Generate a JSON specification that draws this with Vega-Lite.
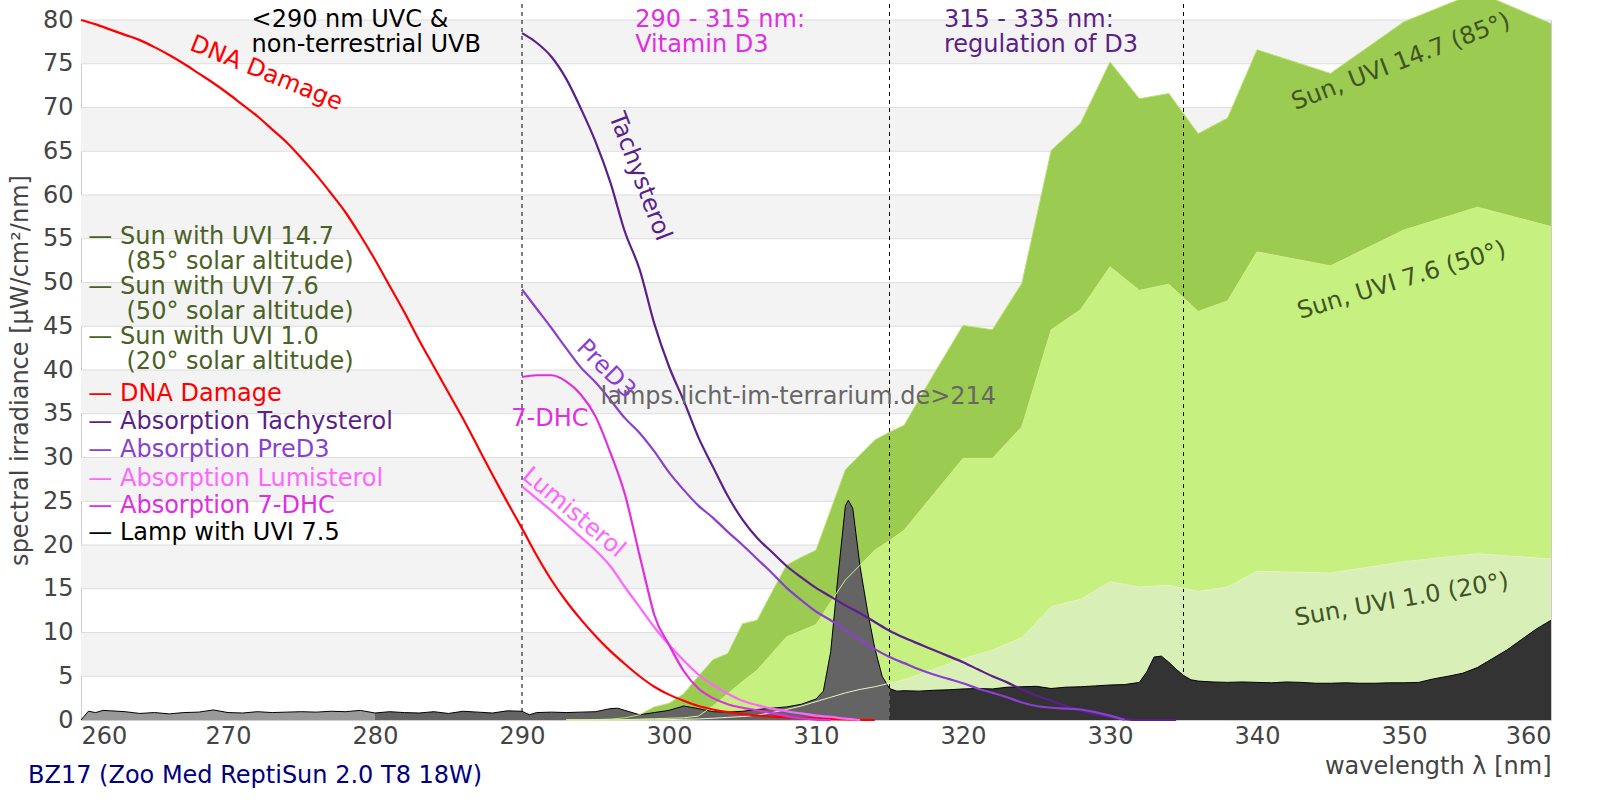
{
  "$schema": "https://vega.github.io/schema/vega-lite/v6.json",
  "width": 1470,
  "height": 700,
  "autosize": {"type": "none"},
  "padding": {"left": 81, "top": 20, "right": 49, "bottom": 80},
  "background": "#ffffff",
  "config": {
    "font": "DejaVu Sans",
    "view": {"stroke": "#cccccc"},
    "mark": {"invalid": "filter"},
    "axis": {
      "labelFont": "DejaVu Sans",
      "labelFontSize": 24,
      "labelColor": "#444444",
      "titleFont": "DejaVu Sans",
      "titleFontSize": 24,
      "titleFontWeight": "normal",
      "titleColor": "#444444",
      "ticks": false,
      "domain": false,
      "grid": false
    }
  },
  "title": {
    "text": "BZ17 (Zoo Med ReptiSun 2.0 T8 18W)",
    "orient": "bottom",
    "anchor": "start",
    "frame": "group",
    "font": "DejaVu Sans",
    "fontSize": 24,
    "fontWeight": "normal",
    "color": "#000080",
    "dx": -53,
    "offset": -14
  },
  "datasets": {
    "bands": [
      {"lo": 5, "hi": 10}, {"lo": 15, "hi": 20}, {"lo": 25, "hi": 30}, {"lo": 35, "hi": 40},
      {"lo": 45, "hi": 50}, {"lo": 55, "hi": 60}, {"lo": 65, "hi": 70}, {"lo": 75, "hi": 80}
    ],
    "zones": [{"wl": 290}, {"wl": 315}, {"wl": 335}],
    "sun": [
      {"wl": 293, "s147": 0, "s76": 0, "s10": 0},
      {"wl": 294, "s147": 0, "s76": 0, "s10": 0},
      {"wl": 295, "s147": 0.05, "s76": 0, "s10": 0},
      {"wl": 296, "s147": 0.1, "s76": 0.02, "s10": 0},
      {"wl": 297, "s147": 0.25, "s76": 0.05, "s10": 0.01},
      {"wl": 298, "s147": 0.6, "s76": 0.1, "s10": 0.02},
      {"wl": 299, "s147": 1.5, "s76": 0.15, "s10": 0.03},
      {"wl": 300, "s147": 1.9, "s76": 0.2, "s10": 0.05},
      {"wl": 301, "s147": 3.0, "s76": 0.25, "s10": 0.08},
      {"wl": 302, "s147": 5.0, "s76": 0.45, "s10": 0.12},
      {"wl": 303, "s147": 6.9, "s76": 1.6, "s10": 0.2},
      {"wl": 304, "s147": 7.6, "s76": 3.0, "s10": 0.3},
      {"wl": 305, "s147": 11.0, "s76": 4.4, "s10": 0.4},
      {"wl": 306, "s147": 11.4, "s76": 5.7, "s10": 0.55},
      {"wl": 307, "s147": 14.6, "s76": 7.6, "s10": 0.85},
      {"wl": 308, "s147": 17.7, "s76": 9.5, "s10": 1.2},
      {"wl": 309, "s147": 18.6, "s76": 10.2, "s10": 1.6},
      {"wl": 310, "s147": 19.4, "s76": 10.9, "s10": 2.1},
      {"wl": 311, "s147": 24.0, "s76": 13.5, "s10": 2.6},
      {"wl": 312, "s147": 28.6, "s76": 16.0, "s10": 3.1},
      {"wl": 313, "s147": 30.3, "s76": 17.7, "s10": 3.5},
      {"wl": 314, "s147": 32.0, "s76": 19.4, "s10": 3.8},
      {"wl": 315, "s147": 32.9, "s76": 20.5, "s10": 4.2},
      {"wl": 316, "s147": 33.7, "s76": 21.7, "s10": 4.6},
      {"wl": 318, "s147": 39.5, "s76": 25.8, "s10": 5.8},
      {"wl": 320, "s147": 45.1, "s76": 29.9, "s10": 7.0},
      {"wl": 322, "s147": 44.6, "s76": 29.9, "s10": 8.0},
      {"wl": 324, "s147": 49.9, "s76": 33.5, "s10": 9.4},
      {"wl": 326, "s147": 65.1, "s76": 44.6, "s10": 12.95},
      {"wl": 328, "s147": 68.2, "s76": 46.9, "s10": 13.8},
      {"wl": 330, "s147": 75.2, "s76": 51.8, "s10": 15.8},
      {"wl": 332, "s147": 71.0, "s76": 49.1, "s10": 15.2},
      {"wl": 334, "s147": 71.6, "s76": 49.8, "s10": 15.4},
      {"wl": 336, "s147": 67.0, "s76": 46.7, "s10": 14.7},
      {"wl": 338, "s147": 68.8, "s76": 47.9, "s10": 15.2},
      {"wl": 340, "s147": 76.6, "s76": 53.5, "s10": 17.0},
      {"wl": 345, "s147": 73.9, "s76": 51.9, "s10": 16.8},
      {"wl": 350, "s147": 79.8, "s76": 56.0, "s10": 18.1},
      {"wl": 355, "s147": 83.2, "s76": 58.6, "s10": 19.0},
      {"wl": 360, "s147": 79.6, "s76": 56.4, "s10": 18.4}
    ],
    "lamp": [
      {"wl": 260, "v": 0}, {"wl": 260.5, "v": 1.0}, {"wl": 261, "v": 0.85}, {"wl": 261.5, "v": 1.1},
      {"wl": 262, "v": 1.05}, {"wl": 263, "v": 0.95}, {"wl": 264, "v": 0.75}, {"wl": 265, "v": 0.85},
      {"wl": 266, "v": 0.7}, {"wl": 267, "v": 0.85}, {"wl": 268, "v": 0.9}, {"wl": 269, "v": 1.15},
      {"wl": 270, "v": 0.85}, {"wl": 271, "v": 0.8}, {"wl": 272, "v": 0.95}, {"wl": 273, "v": 0.85},
      {"wl": 274, "v": 0.9}, {"wl": 275, "v": 0.95}, {"wl": 276, "v": 0.9}, {"wl": 277, "v": 1.0},
      {"wl": 278, "v": 0.95}, {"wl": 279, "v": 1.1}, {"wl": 280, "v": 0.8}, {"wl": 281, "v": 0.95},
      {"wl": 282, "v": 0.85}, {"wl": 283, "v": 0.8}, {"wl": 284, "v": 0.95}, {"wl": 285, "v": 0.75},
      {"wl": 286, "v": 1.0}, {"wl": 287, "v": 0.9}, {"wl": 288, "v": 0.8}, {"wl": 289, "v": 1.05},
      {"wl": 290, "v": 1.0}, {"wl": 290.5, "v": 0.6}, {"wl": 291, "v": 0.85}, {"wl": 292, "v": 0.9},
      {"wl": 293, "v": 0.85}, {"wl": 294, "v": 0.9}, {"wl": 295, "v": 0.95}, {"wl": 296, "v": 1.3},
      {"wl": 296.5, "v": 1.35}, {"wl": 297, "v": 1.1}, {"wl": 298, "v": 0.6}, {"wl": 299, "v": 0.85},
      {"wl": 300, "v": 1.1}, {"wl": 301, "v": 1.6}, {"wl": 302, "v": 1.3}, {"wl": 303, "v": 0.95},
      {"wl": 304, "v": 0.9}, {"wl": 305, "v": 1.0}, {"wl": 306, "v": 1.2}, {"wl": 307, "v": 1.35},
      {"wl": 308, "v": 1.5}, {"wl": 309, "v": 1.8}, {"wl": 310, "v": 2.4}, {"wl": 310.5, "v": 3.3},
      {"wl": 311, "v": 7.8}, {"wl": 311.5, "v": 16.5}, {"wl": 312, "v": 24.5}, {"wl": 312.2, "v": 25.1},
      {"wl": 312.5, "v": 24.2}, {"wl": 313, "v": 17.5}, {"wl": 313.5, "v": 12.5}, {"wl": 314, "v": 8.2},
      {"wl": 314.5, "v": 5.0}, {"wl": 315, "v": 3.6}, {"wl": 315.5, "v": 3.3}, {"wl": 316, "v": 3.35},
      {"wl": 317, "v": 3.3}, {"wl": 318, "v": 3.4}, {"wl": 319, "v": 3.45}, {"wl": 320, "v": 3.55},
      {"wl": 321, "v": 3.6}, {"wl": 322, "v": 3.55}, {"wl": 323, "v": 3.75}, {"wl": 324, "v": 3.8},
      {"wl": 325, "v": 3.85}, {"wl": 326, "v": 3.6}, {"wl": 327, "v": 3.75}, {"wl": 328, "v": 3.8},
      {"wl": 329, "v": 3.9}, {"wl": 330, "v": 4.0}, {"wl": 331, "v": 4.05}, {"wl": 332, "v": 4.3},
      {"wl": 332.5, "v": 5.5}, {"wl": 333, "v": 7.2}, {"wl": 333.5, "v": 7.3}, {"wl": 334, "v": 6.6},
      {"wl": 334.5, "v": 5.8}, {"wl": 335, "v": 5.1}, {"wl": 335.5, "v": 4.6}, {"wl": 336, "v": 4.45},
      {"wl": 337, "v": 4.35}, {"wl": 338, "v": 4.3}, {"wl": 339, "v": 4.35}, {"wl": 340, "v": 4.3},
      {"wl": 341, "v": 4.25}, {"wl": 342, "v": 4.35}, {"wl": 343, "v": 4.3}, {"wl": 344, "v": 4.2},
      {"wl": 345, "v": 4.2}, {"wl": 346, "v": 4.25}, {"wl": 347, "v": 4.2}, {"wl": 348, "v": 4.2},
      {"wl": 349, "v": 4.25}, {"wl": 350, "v": 4.25}, {"wl": 351, "v": 4.3}, {"wl": 352, "v": 4.7},
      {"wl": 353, "v": 5.0}, {"wl": 354, "v": 5.35}, {"wl": 355, "v": 6.0}, {"wl": 356, "v": 7.0},
      {"wl": 357, "v": 8.0}, {"wl": 358, "v": 9.2}, {"wl": 359, "v": 10.4}, {"wl": 360, "v": 11.4}
    ],
    "curves": [
      {"wl": 260, "dna": 80.0}, {"wl": 261, "dna": 79.5}, {"wl": 262, "dna": 78.9}, {"wl": 263, "dna": 78.3},
      {"wl": 264, "dna": 77.7}, {"wl": 265, "dna": 76.9}, {"wl": 266, "dna": 76.0}, {"wl": 267, "dna": 75.0},
      {"wl": 268, "dna": 73.9}, {"wl": 269, "dna": 72.8}, {"wl": 270, "dna": 71.6}, {"wl": 271, "dna": 70.3},
      {"wl": 272, "dna": 69.0}, {"wl": 273, "dna": 67.5}, {"wl": 274, "dna": 66.0}, {"wl": 275, "dna": 64.2},
      {"wl": 276, "dna": 62.3}, {"wl": 277, "dna": 60.2}, {"wl": 278, "dna": 58.0}, {"wl": 279, "dna": 55.4},
      {"wl": 280, "dna": 52.6}, {"wl": 281, "dna": 49.6}, {"wl": 282, "dna": 46.6}, {"wl": 283, "dna": 43.4},
      {"wl": 284, "dna": 40.4}, {"wl": 285, "dna": 37.4}, {"wl": 286, "dna": 34.4}, {"wl": 287, "dna": 31.2},
      {"wl": 288, "dna": 28.0}, {"wl": 289, "dna": 24.9},
      {"wl": 290, "dna": 21.9, "tachy": 78.5, "pred3": 49.2, "lumi": 26.7, "dhc": 39.2},
      {"wl": 291, "dna": 18.8, "tachy": 77.4, "pred3": 47.0, "lumi": 25.3, "dhc": 39.4},
      {"wl": 292, "dna": 16.0, "tachy": 75.8, "pred3": 44.8, "lumi": 23.9, "dhc": 39.4},
      {"wl": 293, "dna": 13.6, "tachy": 73.3, "pred3": 42.5, "lumi": 22.4, "dhc": 38.7},
      {"wl": 294, "dna": 11.5, "tachy": 69.9, "pred3": 40.3, "lumi": 20.9, "dhc": 37.2},
      {"wl": 295, "dna": 9.6, "tachy": 66.1, "pred3": 38.6, "lumi": 19.4, "dhc": 34.7},
      {"wl": 296, "dna": 7.9, "tachy": 61.5, "pred3": 36.6, "lumi": 17.6, "dhc": 30.6},
      {"wl": 297, "dna": 6.4, "tachy": 55.8, "pred3": 34.5, "lumi": 15.2, "dhc": 25.8},
      {"wl": 298, "dna": 5.0, "tachy": 51.5, "pred3": 32.8, "lumi": 12.9, "dhc": 18.8},
      {"wl": 298.5, "dhc": 15.3},
      {"wl": 299, "dna": 3.8, "tachy": 45.3, "pred3": 30.7, "lumi": 10.6, "dhc": 12.0},
      {"wl": 300, "dna": 2.9, "tachy": 40.4, "pred3": 28.3, "lumi": 8.6, "dhc": 8.6},
      {"wl": 301, "dna": 2.2, "tachy": 36.5, "pred3": 26.3, "lumi": 6.8, "dhc": 5.6},
      {"wl": 302, "dna": 1.6, "tachy": 32.3, "pred3": 24.5, "lumi": 5.2, "dhc": 3.6},
      {"wl": 303, "dna": 1.2, "tachy": 28.9, "pred3": 23.1, "lumi": 4.0, "dhc": 2.5},
      {"wl": 304, "dna": 0.9, "tachy": 25.6, "pred3": 21.5, "lumi": 3.0, "dhc": 1.8},
      {"wl": 305, "dna": 0.7, "tachy": 22.9, "pred3": 20.0, "lumi": 2.2, "dhc": 1.4},
      {"wl": 306, "dna": 0.5, "tachy": 20.8, "pred3": 18.4, "lumi": 1.7, "dhc": 1.1},
      {"wl": 307, "dna": 0.4, "tachy": 19.2, "pred3": 16.8, "lumi": 1.3, "dhc": 0.8},
      {"wl": 308, "dna": 0.3, "tachy": 17.6, "pred3": 15.1, "lumi": 1.0, "dhc": 0.45},
      {"wl": 309, "dna": 0.22, "tachy": 16.3, "pred3": 13.7, "lumi": 0.75, "dhc": 0.2},
      {"wl": 310, "dna": 0.16, "tachy": 15.1, "pred3": 12.4, "lumi": 0.5, "dhc": 0.05},
      {"wl": 311, "dna": 0.1, "tachy": 14.1, "pred3": 11.4, "lumi": 0.35, "dhc": 0},
      {"wl": 312, "dna": 0.06, "tachy": 13.1, "pred3": 10.3, "lumi": 0.15},
      {"wl": 313, "dna": 0.03, "tachy": 12.2, "pred3": 9.2, "lumi": 0},
      {"wl": 314, "dna": 0, "tachy": 11.2, "pred3": 8.1},
      {"wl": 315, "tachy": 10.2, "pred3": 7.2},
      {"wl": 316, "tachy": 9.4, "pred3": 6.5},
      {"wl": 317, "tachy": 8.7, "pred3": 5.8},
      {"wl": 318, "tachy": 8.0, "pred3": 5.2},
      {"wl": 319, "tachy": 7.3, "pred3": 4.7},
      {"wl": 320, "tachy": 6.6, "pred3": 4.2},
      {"wl": 321, "tachy": 5.8, "pred3": 3.6},
      {"wl": 322, "tachy": 5.0, "pred3": 3.1},
      {"wl": 323, "tachy": 4.3, "pred3": 2.6},
      {"wl": 324, "tachy": 3.5, "pred3": 2.0},
      {"wl": 325, "tachy": 2.8, "pred3": 1.6},
      {"wl": 326, "tachy": 2.2, "pred3": 1.4},
      {"wl": 327, "tachy": 1.6, "pred3": 1.3},
      {"wl": 328, "tachy": 1.1, "pred3": 1.2},
      {"wl": 329, "tachy": 0.7, "pred3": 0.9},
      {"wl": 330, "tachy": 0.35, "pred3": 0.5},
      {"wl": 331, "tachy": 0.1, "pred3": 0},
      {"wl": 332, "tachy": 0},
      {"wl": 333, "tachy": 0},
      {"wl": 334.5, "tachy": 0}
    ],
    "blocks": [
      {"wl": 260.5, "v": 56.6, "text": ["— Sun with UVI 14.7", "\u200b\u00a0\u00a0\u00a0\u00a0\u00a0(85° solar altitude)"], "group": "sun"},
      {"wl": 260.5, "v": 50.9, "text": ["— Sun with UVI 7.6", "\u200b\u00a0\u00a0\u00a0\u00a0\u00a0(50° solar altitude)"], "group": "sun"},
      {"wl": 260.5, "v": 45.2, "text": ["— Sun with UVI 1.0", "\u200b\u00a0\u00a0\u00a0\u00a0\u00a0(20° solar altitude)"], "group": "sun"},
      {"wl": 271.6, "v": 81.4, "text": ["<290 nm UVC &", "non-terrestrial UVB"], "group": "lamp"},
      {"wl": 297.7, "v": 81.4, "text": ["290 - 315 nm:", "Vitamin D3"], "group": "dhc"},
      {"wl": 318.7, "v": 81.4, "text": ["315 - 335 nm:", "regulation of D3"], "group": "tachy"}
    ],
    "legend": [
      {"wl": 260.5, "v": 37.3, "text": "— DNA Damage", "group": "dna"},
      {"wl": 260.5, "v": 34.1, "text": "— Absorption Tachysterol", "group": "tachy"},
      {"wl": 260.5, "v": 30.9, "text": "— Absorption PreD3", "group": "pred3"},
      {"wl": 260.5, "v": 27.6, "text": "— Absorption Lumisterol", "group": "lumi"},
      {"wl": 260.5, "v": 24.5, "text": "— Absorption 7-DHC", "group": "dhc"},
      {"wl": 260.5, "v": 21.4, "text": "— Lamp with UVI 7.5", "group": "lamp"}
    ],
    "tags": [
      {"wl": 272.6, "v": 73.9, "text": "DNA Damage", "group": "dna"},
      {"wl": 298.0, "v": 62.1, "text": "Tachysterol", "group": "tachy"},
      {"wl": 295.7, "v": 40.1, "text": "PreD3", "group": "pred3"},
      {"wl": 293.5, "v": 23.7, "text": "Lumisterol", "group": "lumi"},
      {"wl": 291.9, "v": 34.35, "text": "7-DHC", "group": "dhc"},
      {"wl": 308.8, "v": 36.95, "text": "lamps.licht-im-terrarium.de>214", "group": "water"},
      {"wl": 349.8, "v": 75.2, "text": "Sun, UVI 14.7 (85°)", "group": "sunlabel"},
      {"wl": 349.85, "v": 50.2, "text": "Sun, UVI 7.6 (50°)", "group": "sunlabel"},
      {"wl": 349.85, "v": 13.7, "text": "Sun, UVI 1.0 (20°)", "group": "sunlabel"}
    ]
  },
  "layer": [
    {
      "data": {"name": "bands"},
      "mark": {"type": "rect", "fill": "#f3f3f3"},
      "encoding": {
        "y": {"field": "lo", "type": "quantitative"},
        "y2": {"field": "hi"}
      }
    },
    {
      "data": {"name": "bands"},
      "mark": {"type": "rule", "stroke": "#dddddd", "strokeWidth": 1},
      "encoding": {"y": {"field": "lo", "type": "quantitative"}}
    },
    {
      "data": {"name": "bands"},
      "mark": {"type": "rule", "stroke": "#dddddd", "strokeWidth": 1},
      "encoding": {"y": {"field": "hi", "type": "quantitative"}}
    },
    {
      "data": {"name": "sun"},
      "encoding": {
        "x": {
          "field": "wl",
          "type": "quantitative",
          "scale": {"domain": [260, 360], "nice": false, "zero": false},
          "axis": {
            "values": [260, 270, 280, 290, 300, 310, 320, 330, 340, 350, 360],
            "title": "wavelength λ [nm]",
            "titleAnchor": "end",
            "titleAlign": "right",
            "labelPadding": 4,
            "titlePadding": 6
          }
        }
      },
      "layer": [
        {
          "mark": {"type": "area", "color": "#9bcb50"},
          "encoding": {
            "y": {
              "field": "s147",
              "type": "quantitative",
              "scale": {"domain": [0, 80], "nice": false},
              "axis": {
                "values": [0, 5, 10, 15, 20, 25, 30, 35, 40, 45, 50, 55, 60, 65, 70, 75, 80],
                "title": "spectral irradiance [µW/cm²/nm]",
                "labelPadding": 8,
                "titlePadding": 10
              }
            }
          }
        },
        {
          "mark": {"type": "area", "color": "#c6f07f"},
          "encoding": {"y": {"field": "s76", "type": "quantitative"}}
        },
        {
          "mark": {"type": "area", "color": "#d9efb8"},
          "encoding": {"y": {"field": "s10", "type": "quantitative"}}
        }
      ]
    },
    {
      "data": {"name": "zones"},
      "mark": {"type": "rule", "stroke": "#000000", "strokeWidth": 1, "strokeDash": [4, 4]},
      "encoding": {
        "x": {"field": "wl", "type": "quantitative"},
        "y": {"datum": 0, "type": "quantitative"},
        "y2": {"datum": 83}
      }
    },
    {
      "data": {"name": "lamp"},
      "encoding": {
        "x": {"field": "wl", "type": "quantitative"},
        "y": {"field": "v", "type": "quantitative"}
      },
      "layer": [
        {
          "transform": [{"filter": "datum.wl <= 280"}],
          "mark": {"type": "area", "color": "#999999"}
        },
        {
          "transform": [{"filter": "datum.wl >= 280 && datum.wl <= 315"}],
          "mark": {"type": "area", "color": "#646464"}
        },
        {
          "transform": [{"filter": "datum.wl >= 315"}],
          "mark": {"type": "area", "color": "#333333"}
        },
        {
          "mark": {"type": "line", "color": "#000000", "strokeWidth": 1}
        }
      ]
    },
    {
      "data": {"name": "sun"},
      "encoding": {"x": {"field": "wl", "type": "quantitative"}},
      "layer": [
        {
          "mark": {"type": "line", "color": "#b9e070", "strokeWidth": 1},
          "encoding": {"y": {"field": "s147", "type": "quantitative"}}
        },
        {
          "mark": {"type": "line", "color": "#d6f08a", "strokeWidth": 1},
          "encoding": {"y": {"field": "s76", "type": "quantitative"}}
        },
        {
          "mark": {"type": "line", "color": "#e2f3c4", "strokeWidth": 1},
          "encoding": {"y": {"field": "s10", "type": "quantitative"}}
        }
      ]
    },
    {
      "data": {"name": "curves"},
      "encoding": {"x": {"field": "wl", "type": "quantitative"}},
      "layer": [
        {
          "mark": {"type": "line", "color": "#ff0000", "strokeWidth": 2.2, "interpolate": "monotone"},
          "encoding": {"y": {"field": "dna", "type": "quantitative"}}
        },
        {
          "mark": {"type": "line", "color": "#5b1f8a", "strokeWidth": 2.2, "interpolate": "monotone"},
          "encoding": {"y": {"field": "tachy", "type": "quantitative"}}
        },
        {
          "mark": {"type": "line", "color": "#8b3fcf", "strokeWidth": 2.2, "interpolate": "monotone"},
          "encoding": {"y": {"field": "pred3", "type": "quantitative"}}
        },
        {
          "mark": {"type": "line", "color": "#ff66ff", "strokeWidth": 2.2, "interpolate": "monotone"},
          "encoding": {"y": {"field": "lumi", "type": "quantitative"}}
        },
        {
          "mark": {"type": "line", "color": "#e02ee0", "strokeWidth": 2.2, "interpolate": "monotone"},
          "encoding": {"y": {"field": "dhc", "type": "quantitative"}}
        }
      ]
    },
    {
      "data": {"name": "blocks"},
      "mark": {"type": "text", "align": "left", "baseline": "top", "fontSize": 24, "lineHeight": 25},
      "encoding": {
        "x": {"field": "wl", "type": "quantitative"},
        "y": {"field": "v", "type": "quantitative"},
        "text": {"field": "text", "type": "nominal"},
        "color": {
          "field": "group",
          "type": "nominal",
          "scale": {
            "domain": ["sun", "dna", "tachy", "pred3", "lumi", "dhc", "lamp", "sunlabel", "water"],
            "range": ["#4a6124", "#ff0000", "#5b1f8a", "#8b3fcf", "#ff66ff", "#e02ee0", "#000000", "#3f5423", "#666666"]
          },
          "legend": null
        }
      }
    },
    {
      "data": {"name": "legend"},
      "mark": {"type": "text", "align": "left", "baseline": "middle", "fontSize": 24},
      "encoding": {
        "x": {"field": "wl", "type": "quantitative"},
        "y": {"field": "v", "type": "quantitative"},
        "text": {"field": "text", "type": "nominal"},
        "color": {"field": "group", "type": "nominal", "legend": null}
      }
    },
    {
      "data": {"name": "tags"},
      "encoding": {
        "x": {"field": "wl", "type": "quantitative"},
        "y": {"field": "v", "type": "quantitative"},
        "text": {"field": "text", "type": "nominal"},
        "color": {"field": "group", "type": "nominal", "legend": null}
      },
      "layer": [
        {
          "transform": [{"filter": "datum.text == '7-DHC' || datum.group == 'water'"}],
          "mark": {"type": "text", "align": "center", "baseline": "middle", "fontSize": 24}
        },
        {
          "transform": [{"filter": "datum.text == 'DNA Damage'"}],
          "mark": {"type": "text", "align": "center", "baseline": "middle", "fontSize": 24, "angle": 22}
        },
        {
          "transform": [{"filter": "datum.text == 'Tachysterol'"}],
          "mark": {"type": "text", "align": "center", "baseline": "middle", "fontSize": 24, "angle": 69}
        },
        {
          "transform": [{"filter": "datum.text == 'PreD3'"}],
          "mark": {"type": "text", "align": "center", "baseline": "middle", "fontSize": 24, "angle": 45}
        },
        {
          "transform": [{"filter": "datum.text == 'Lumisterol'"}],
          "mark": {"type": "text", "align": "center", "baseline": "middle", "fontSize": 24, "angle": 40}
        },
        {
          "transform": [{"filter": "datum.text == 'Sun, UVI 14.7 (85°)'"}],
          "mark": {"type": "text", "align": "center", "baseline": "middle", "fontSize": 24, "angle": -21}
        },
        {
          "transform": [{"filter": "datum.text == 'Sun, UVI 7.6 (50°)'"}],
          "mark": {"type": "text", "align": "center", "baseline": "middle", "fontSize": 24, "angle": -17}
        },
        {
          "transform": [{"filter": "datum.text == 'Sun, UVI 1.0 (20°)'"}],
          "mark": {"type": "text", "align": "center", "baseline": "middle", "fontSize": 24, "angle": -10}
        }
      ]
    }
  ]
}
